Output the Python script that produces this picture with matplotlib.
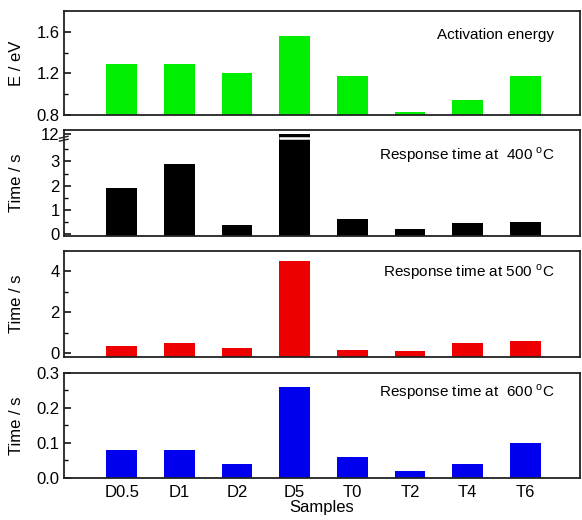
import numpy as np
import matplotlib.pyplot as plt
from matplotlib.ticker import MultipleLocator, FixedLocator

plt.rcParams['font.family'] = ['Liberation Sans', 'DejaVu Sans']
plt.rcParams['mathtext.fontset'] = 'custom'
plt.rcParams['mathtext.rm'] = 'Liberation Sans'

# data
samples = ['D0.5', 'D1', 'D2', 'D5', 'T0', 'T2', 'T4', 'T6']
energy = [1.29, 1.29, 1.20, 1.56, 1.17, 0.83, 0.94, 1.17]
t400 = [1.9, 2.9, 0.38, 12.0, 0.62, 0.23, 0.45, 0.52]
t500 = [0.34, 0.49, 0.26, 4.5, 0.12, 0.07, 0.49, 0.57]
t600 = [0.08, 0.08, 0.04, 0.26, 0.06, 0.02, 0.04, 0.10]

x = np.arange(len(samples))
bw = 0.53

fig = plt.figure(figsize=(5.82, 5.2), dpi=100)
left, width = 0.11, 0.887
boxes = [(0.779, 0.200), (0.546, 0.204), (0.3135, 0.204), (0.081, 0.202)]
axes = [fig.add_axes([left, b, width, h]) for b, h in boxes]

for ax in axes:
    ax.set_xlim(-1.0, 7.95)
    for s in ax.spines.values():
        s.set_linewidth(1.3)
        s.set_color('#222222')
    ax.tick_params(axis='y', direction='in', length=5, width=1.1, labelsize=12, pad=3)
    ax.tick_params(axis='y', which='minor', direction='in', length=3, width=1.0)
    ax.tick_params(axis='x', length=0, labelbottom=False)

# panel 1: activation energy
ax = axes[0]
lo = 0.8
ax.bar(x, np.array(energy) - lo, bw, bottom=lo, color='#00ee00')
ax.set_ylim(lo, 1.8)
ax.yaxis.set_major_locator(FixedLocator([0.8, 1.2, 1.6]))
ax.yaxis.set_minor_locator(FixedLocator([1.0, 1.4]))
ax.set_ylabel('E / eV', fontsize=12)
ax.text(0.95, 0.77, 'Activation energy', transform=ax.transAxes, ha='right', va='center', fontsize=11)

# panel 2: 400 C with broken axis
ax = axes[1]
lo = -0.08

def squash(v):
    # values above the break are pulled down next to the top of the axis
    return v if v < 4 else 4.15 + (v - 12.0) * 0.3

h400 = np.array([squash(v) for v in t400])
ax.bar(x, h400 - lo, bw, bottom=lo, color='black')
ax.set_ylim(lo, 4.3)
ax.yaxis.set_major_locator(FixedLocator([0, 1, 2, 3, squash(12)]))
ax.set_yticklabels(['0', '1', '2', '3', '12'])
ax.yaxis.set_minor_locator(FixedLocator([0.5, 1.5, 2.5, 3.5]))
# white break line through the tall bar
big = int(np.argmax(t400))
ax.plot([x[big] - bw / 2, x[big] + bw / 2], [3.95, 3.95], color='white', lw=1.8, solid_capstyle='butt')
# break marks on the y axis
for yb in (3.88, 4.0):
    ax.plot([-1.08, -0.93], [yb - 0.04, yb + 0.04], color='#222222', lw=1.0, clip_on=False)
ax.set_ylabel('Time / s', fontsize=12)
ax.text(0.95, 0.76, 'Response time at  400 $^{\\mathrm{o}}$C', transform=ax.transAxes,
        ha='right', va='center', fontsize=11)

# panel 3: 500 C
ax = axes[2]
lo = -0.2
ax.bar(x, np.array(t500) - lo, bw, bottom=lo, color='#ee0000')
ax.set_ylim(lo, 5.0)
ax.yaxis.set_major_locator(FixedLocator([0, 2, 4]))
ax.yaxis.set_minor_locator(FixedLocator([1, 3]))
ax.set_ylabel('Time / s', fontsize=12)
ax.text(0.95, 0.80, 'Response time at 500 $^{\\mathrm{o}}$C', transform=ax.transAxes,
        ha='right', va='center', fontsize=11)

# panel 4: 600 C
ax = axes[3]
ax.bar(x, t600, bw, color='#0000ee')
ax.set_ylim(0, 0.3)
ax.set_yticks([0, 0.1, 0.2, 0.3])
ax.set_yticklabels(['0.0', '0.1', '0.2', '0.3'])
ax.yaxis.set_minor_locator(MultipleLocator(0.05))
ax.set_ylabel('Time / s', fontsize=12)
ax.text(0.95, 0.82, 'Response time at  600 $^{\\mathrm{o}}$C', transform=ax.transAxes,
        ha='right', va='center', fontsize=11)
ax.set_xticks(x)
ax.set_xticklabels(samples)
ax.tick_params(axis='x', labelbottom=True, labelsize=12, pad=5)
ax.set_xlabel('Samples', fontsize=12, labelpad=0)

for ax in axes:
    ax.yaxis.set_label_coords(-0.078, 0.5)

fig.savefig('out.png', dpi=100)
